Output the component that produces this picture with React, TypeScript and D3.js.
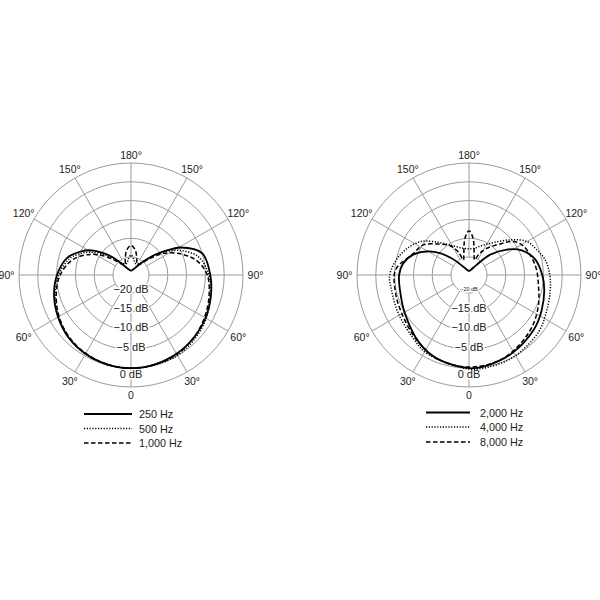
import React from "react";
import * as d3 from "d3";

// ---- data (angle in degrees: 0 = front/bottom, 90 = left, 180 = rear/top, 270 = right) ----
const ang250 = [0, 15, 30, 45, 60, 75, 90, 105, 115, 122, 128, 134, 141, 155, 180, 205, 219, 226, 230, 236, 241, 253, 270, 285, 300, 315, 330, 345];
const db250 = [0, -0.2, -0.6, -1.3, -2.4, -3.6, -5.1, -7.2, -10, -12.4, -15.2, -18, -21, -23, -23.6, -23, -21, -18.5, -16.3, -13, -9.7, -5.0, -3.7, -2.8, -1.9, -1.2, -0.6, -0.2];

const ang500 = [0, 15, 30, 45, 60, 75, 90, 105, 114, 120, 127, 134, 145, 160, 170, 180, 190, 200, 215, 225, 232, 243.6, 255, 270, 285, 300, 315, 330, 345];
const db500 = [0, -0.1, -0.5, -1.3, -2.5, -3.9, -5.5, -7.9, -10.5, -12.7, -15.6, -18.5, -21, -21.5, -20.5, -19.5, -20.5, -21.5, -21, -19, -15.5, -10.1, -6.2, -4.1, -3.0, -1.7, -0.8, -0.1, 0];

const ang1000 = [0, 15, 30, 45, 60, 75, 90, 105, 116.7, 124, 131, 140, 150, 160, 170, 180, 190, 200, 210, 220, 228, 236, 248, 258, 270, 285, 300, 315, 330, 345];
const db1000 = [0, -0.2, -0.7, -1.5, -2.7, -4.2, -5.95, -8.8, -12.6, -15.5, -18.5, -21, -21.6, -20.3, -18.1, -16.9, -18.1, -20.3, -21.6, -21, -18.5, -14.5, -10.1, -6.8, -4.5, -3.3, -2.2, -1.2, -0.4, -0.1];

const ang2000 = [0, 21, 36, 59, 78, 90, 100, 110, 119, 127, 134, 145, 160, 180, 200, 217, 226, 236, 245, 256, 270, 281, 296, 310, 332, 350];
const db2000 = [0, -1.0, -2.4, -4.9, -6.0, -6.2, -7.0, -9.0, -11.9, -15.1, -18.5, -22, -23.3, -23.7, -23.3, -21.4, -17.1, -12.7, -9.3, -6.8, -5.3, -4.4, -3.3, -2.25, -1.0, -0.2];

const ang4000 = [0, 28, 42, 61.5, 79, 90, 106, 124, 138, 151.6, 168, 180, 192, 203, 213.5, 229.5, 240, 250, 259, 270, 280.5, 294, 309, 330, 345];
const db4000 = [0.2, -1.1, -2.4, -3.4, -3.8, -3.7, -5.65, -9.0, -13.2, -16.0, -17.5, -17.8, -17.5, -16.3, -14.7, -10.4, -7.0, -5.5, -4.1, -3.3, -2.8, -2.1, -0.9, 0, 0.2];

const ang8000 = [0, 20, 38.8, 60.4, 77, 94, 111, 123, 134, 147, 155, 160, 165, 170, 174, 180, 186, 190, 195, 200, 206, 213.5, 225, 233, 241, 253, 265, 280, 293, 308, 324, 340];
const db8000 = [-0.3, -0.9, -2.6, -4.2, -4.7, -5.2, -8.9, -10.2, -12.9, -15.5, -18, -20.5, -19.5, -17.1, -14.8, -13, -14.8, -17.1, -19.5, -20.5, -18.5, -16.3, -13.1, -10, -8.5, -7.6, -6.8, -6.0, -4.7, -3.2, -1.9, -0.7];

const ringDb = [-20, -15, -10, -5, 0, 5];
const dbLabels = ["\u221220 dB", "\u221215 dB", "\u221210 dB", "\u22125 dB", "0 dB"];
const dbLabelValues = [-20, -15, -10, -5, 0];
const spokeAngles = [0, 30, 60, 90, 120, 150, 180, 210, 240, 270, 300, 330];
const legendLeft = ["250 Hz", "500 Hz", "1,000 Hz"];
const legendRight = ["2,000 Hz", "4,000 Hz", "8,000 Hz"];

const FONT = "'Liberation Sans', Arial, Helvetica, sans-serif";
const GRID = "#9a9a9a";

const rScale = d3.scaleLinear().domain([-20, 5]).range([18, 112]);
const rad = (deg: number) => (deg * Math.PI) / 180;

const styles = [
  { dash: "none", width: 1.8 },
  { dash: "1.2 1.6", width: 1.5 },
  { dash: "4.5 2.5", width: 1.5 },
];

const lineGen = d3
  .lineRadial<[number, number]>()
  .angle((d) => rad(180 + d[0]))
  .radius((d) => Math.max(0, rScale(d[1])))
  .curve(d3.curveCatmullRomClosed.alpha(0.5));

function zip(a: number[], b: number[]): [number, number][] {
  return a.map((v, i) => [v, b[i]] as [number, number]);
}

function Polar({ cx, cy, series, smallMinus20 }: { cx: number; cy: number; series: [number, number][][]; smallMinus20: boolean }) {
  const rMin = rScale(-20);
  const rMax = rScale(5);
  const labelOffsets = [-4, -4, -3.5, -2, 6];
  return (
    <g transform={`translate(${cx},${cy})`}>
      {ringDb.map((db) => (
        <circle key={db} r={rScale(db)} fill="none" stroke={GRID} strokeWidth={1} />
      ))}
      {spokeAngles.map((a) => {
        const s = Math.sin(rad(a));
        const c = Math.cos(rad(a));
        return (
          <line key={a} x1={-rMin * s} y1={rMin * c} x2={-rMax * s} y2={rMax * c} stroke={GRID} strokeWidth={1} />
        );
      })}
      {spokeAngles.map((a) => {
        const s = Math.sin(rad(a));
        const c = Math.cos(rad(a));
        const R = 120 + 4.5 * Math.abs(s);
        const shown = a <= 180 ? a : 360 - a;
        const txt = shown === 0 ? "0" : `${shown}\u00b0`;
        return (
          <text key={"l" + a} x={-R * s} y={R * c} textAnchor="middle" dominantBaseline="central" fontSize={10.5} fontFamily={FONT} fill="#222">
            {txt}
          </text>
        );
      })}
      {dbLabelValues.map((db, i) => (
        <text
          key={"db" + db}
          x={0}
          y={rScale(db) + labelOffsets[i]}
          textAnchor="middle"
          dominantBaseline="central"
          fontSize={smallMinus20 && db === -20 ? 5.5 : 11}
          fontFamily={FONT}
          fill="#222"
          stroke="#fff"
          strokeWidth={3}
          paintOrder="stroke"
        >
          {dbLabels[i]}
        </text>
      ))}
      {series.map((pts, i) => (
        <path
          key={"s" + i}
          d={lineGen(pts) || ""}
          fill="none"
          stroke="#000"
          strokeWidth={styles[i].width}
          strokeDasharray={styles[i].dash}
          strokeLinejoin="round"
        />
      ))}
    </g>
  );
}

function Legend({ x1, x2, tx, ys, labels }: { x1: number; x2: number; tx: number; ys: number[]; labels: string[] }) {
  return (
    <g>
      {labels.map((lab, i) => (
        <g key={lab}>
          <line x1={x1} x2={x2} y1={ys[i]} y2={ys[i]} stroke="#000" strokeWidth={styles[i].width} strokeDasharray={styles[i].dash} />
          <text x={tx} y={ys[i]} dominantBaseline="central" fontSize={10.8} fontFamily={FONT} fill="#222">
            {lab}
          </text>
        </g>
      ))}
    </g>
  );
}

export default function App() {
  const left = [zip(ang250, db250), zip(ang500, db500), zip(ang1000, db1000)];
  const right = [zip(ang2000, db2000), zip(ang4000, db4000), zip(ang8000, db8000)];
  return (
    <svg width={600} height={600} style={{ position: "absolute", left: 0, top: 0, background: "#fff" }}>
      <rect width={600} height={600} fill="#fff" />
      <Polar cx={131} cy={275} series={left} smallMinus20={false} />
      <Polar cx={469} cy={275} series={right} smallMinus20={true} />
      <Legend x1={84} x2={132} tx={139} ys={[414, 428.5, 443]} labels={legendLeft} />
      <Legend x1={426} x2={470} tx={480} ys={[412.5, 427, 442]} labels={legendRight} />
    </svg>
  );
}
